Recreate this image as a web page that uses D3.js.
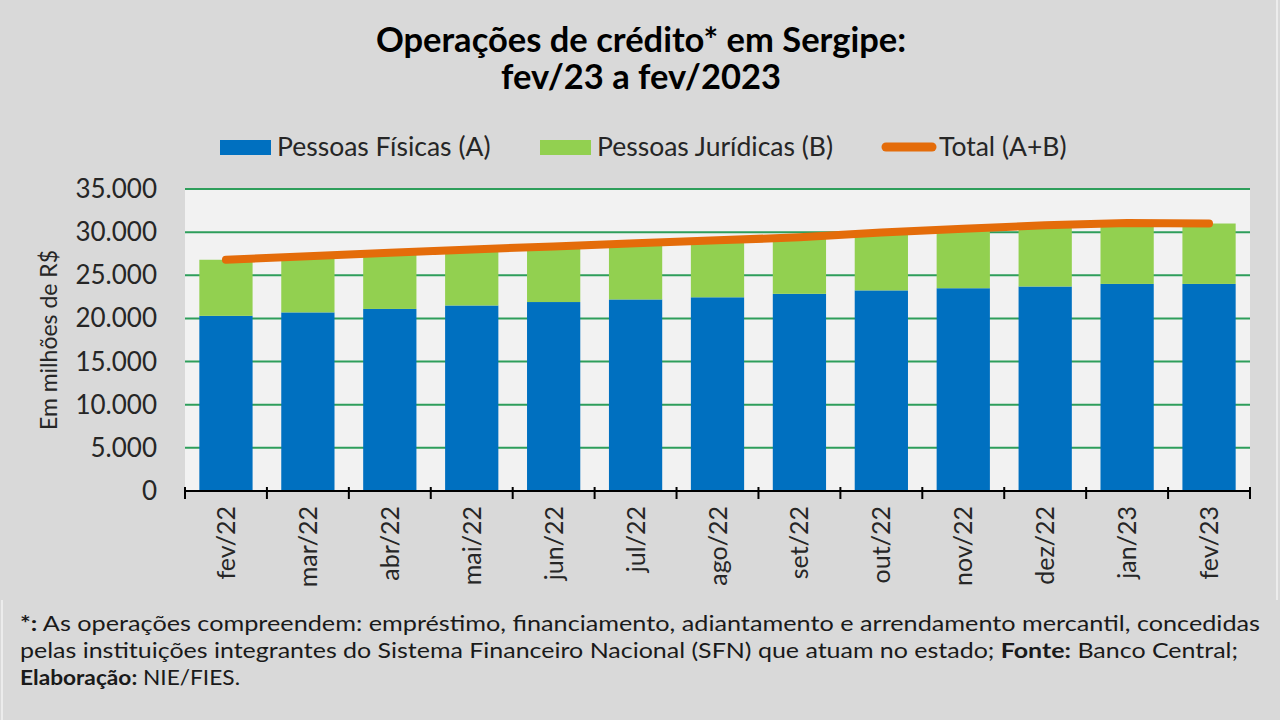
<!DOCTYPE html>
<html>
<head>
<meta charset="utf-8">
<script src="https://cdn.jsdelivr.net/npm/d3@7"></script>
<style>
  body { margin: 0; background: #d9d9d9; }
  svg { display: block; }
</style>
</head>
<body>
<script>
// data (em milhões de R$)
const months = ['fev/22', 'mar/22', 'abr/22', 'mai/22', 'jun/22', 'jul/22', 'ago/22',
  'set/22', 'out/22', 'nov/22', 'dez/22', 'jan/23', 'fev/23'];
const pessoasFisicas = [20300, 20700, 21100, 21500, 21900, 22200, 22450,
  22850, 23250, 23500, 23700, 24000, 24000];
const pessoasJuridicas = [6500, 6500, 6500, 6500, 6450, 6500, 6600,
  6550, 6700, 6900, 7100, 7050, 7000];
const yTicks = [0, 5000, 10000, 15000, 20000, 25000, 30000, 35000];

const total = pessoasFisicas.map((v, i) => v + pessoasJuridicas[i]);

const W = 1280, H = 720;
const plotLeft = 185, plotRight = 1250, plotTop = 189, plotBottom = 491;

const svg = d3.select('body').append('svg')
  .attr('width', W)
  .attr('height', H)
  .style('background', '#d9d9d9');

const fmt = d3.formatLocale({ decimal: ',', thousands: '.', grouping: [3], currency: ['R$', ''] }).format(',');

const x = d3.scaleBand()
  .domain(months)
  .range([plotLeft, plotRight])
  .paddingInner(0.35)
  .paddingOuter(0.175);

const y = d3.scaleLinear()
  .domain([0, 35000])
  .range([plotBottom, plotTop]);

// thin borders of chart box and note box
svg.append('line')
  .attr('x1', 1277).attr('y1', 0).attr('x2', 1277).attr('y2', 600)
  .style('stroke', '#ececec').style('stroke-width', '2px');
svg.append('line')
  .attr('x1', 2).attr('y1', 600).attr('x2', 2).attr('y2', 720)
  .style('stroke', '#ececec').style('stroke-width', '2px');

// title
svg.append('text')
  .attr('x', 641).attr('y', 52)
  .attr('text-anchor', 'middle')
  .style('font-family', 'Lato, sans-serif')
  .style('font-weight', 'bold')
  .style('font-size', '34.5px')
  .text('Operações de crédito* em Sergipe:');
svg.append('text')
  .attr('x', 641).attr('y', 89)
  .attr('text-anchor', 'middle')
  .style('font-family', 'Lato, sans-serif')
  .style('font-weight', 'bold')
  .style('font-size', '34.5px')
  .text('fev/23 a fev/2023');

// legend
const legend = svg.append('g')
  .style('font-family', 'Lato, sans-serif')
  .style('font-size', '26.5px')
  .style('fill', '#262626');
legend.append('rect').attr('x', 220).attr('y', 140).attr('width', 51).attr('height', 15).attr('fill', '#0070c0');
legend.append('text').attr('x', 277).attr('y', 156).text('Pessoas Físicas (A)');
legend.append('rect').attr('x', 540).attr('y', 140).attr('width', 51).attr('height', 15).attr('fill', '#92d050');
legend.append('text').attr('x', 597).attr('y', 156).text('Pessoas Jurídicas (B)');
legend.append('line')
  .attr('x1', 886).attr('y1', 147).attr('x2', 932).attr('y2', 147)
  .style('stroke', '#e46c0a').style('stroke-width', '9px').style('stroke-linecap', 'round');
legend.append('text').attr('x', 939).attr('y', 156).text('Total (A+B)');

// plot area
svg.append('rect')
  .attr('x', plotLeft).attr('y', plotTop)
  .attr('width', plotRight - plotLeft).attr('height', plotBottom - plotTop)
  .attr('fill', '#f2f2f2');

// gridlines
svg.append('g')
  .selectAll('line')
  .data(yTicks.filter(d => d > 0))
  .join('line')
  .attr('x1', plotLeft).attr('x2', plotRight)
  .attr('y1', d => y(d)).attr('y2', d => y(d))
  .style('stroke', '#2e9e5b')
  .style('stroke-width', '2px');

// y axis labels
svg.append('g')
  .selectAll('text')
  .data(yTicks)
  .join('text')
  .attr('x', 157)
  .attr('y', d => y(d) + 9)
  .attr('text-anchor', 'end')
  .style('font-family', 'Lato, sans-serif')
  .style('font-size', '26px')
  .style('fill', '#262626')
  .text(d => fmt(d));

svg.append('text')
  .attr('transform', 'translate(57,340) rotate(-90)')
  .attr('text-anchor', 'middle')
  .style('font-family', 'Lato, sans-serif')
  .style('font-size', '23px')
  .style('fill', '#262626')
  .text('Em milhões de R$');

// stacked bars
const bars = svg.append('g');
bars.selectAll('rect.pf')
  .data(months)
  .join('rect')
  .attr('class', 'pf')
  .attr('x', d => x(d))
  .attr('width', x.bandwidth())
  .attr('y', (d, i) => y(pessoasFisicas[i]))
  .attr('height', (d, i) => y(0) - y(pessoasFisicas[i]))
  .attr('fill', '#0070c0');
bars.selectAll('rect.pj')
  .data(months)
  .join('rect')
  .attr('class', 'pj')
  .attr('x', d => x(d))
  .attr('width', x.bandwidth())
  .attr('y', (d, i) => y(pessoasFisicas[i] + pessoasJuridicas[i]))
  .attr('height', (d, i) => y(pessoasFisicas[i]) - y(pessoasFisicas[i] + pessoasJuridicas[i]))
  .attr('fill', '#92d050');

// x axis
svg.append('line')
  .attr('x1', plotLeft).attr('x2', plotRight)
  .attr('y1', plotBottom).attr('y2', plotBottom)
  .style('stroke', '#000').style('stroke-width', '2px');
svg.append('g')
  .selectAll('line')
  .data(d3.range(months.length + 1))
  .join('line')
  .attr('x1', i => plotLeft + i * x.step())
  .attr('x2', i => plotLeft + i * x.step())
  .attr('y1', plotBottom - 4).attr('y2', plotBottom + 8)
  .style('stroke', '#000').style('stroke-width', '2px');

svg.append('g')
  .selectAll('text')
  .data(months)
  .join('text')
  .attr('transform', d => `translate(${x(d) + x.bandwidth() / 2 + 9},506) rotate(-90)`)
  .attr('text-anchor', 'end')
  .style('font-family', 'Lato, sans-serif')
  .style('font-size', '25px')
  .style('fill', '#262626')
  .text(d => d);

// total line
const line = d3.line()
  .x((d, i) => x(months[i]) + x.bandwidth() / 2)
  .y(d => y(d));
svg.append('path')
  .datum(total)
  .attr('d', line)
  .attr('fill', 'none')
  .style('stroke', '#e46c0a')
  .style('stroke-width', '8px')
  .style('stroke-linecap', 'round')
  .style('stroke-linejoin', 'round');

// footnote, one text per line stretched to the reference widths
const note = svg.append('g')
  .style('font-family', 'Lato, sans-serif')
  .style('font-size', '21px')
  .style('fill', '#1a1a1a');
const n1 = note.append('text').attr('x', 20).attr('y', 631)
  .attr('textLength', 1240).attr('lengthAdjust', 'spacingAndGlyphs');
n1.append('tspan').style('font-weight', 'bold').text('*:');
n1.append('tspan').text(' As operações compreendem: empréstimo, financiamento, adiantamento e arrendamento mercantil, concedidas');
const n2 = note.append('text').attr('x', 20).attr('y', 658)
  .attr('textLength', 1218).attr('lengthAdjust', 'spacingAndGlyphs');
n2.append('tspan').text('pelas instituições integrantes do Sistema Financeiro Nacional (SFN) que atuam no estado; ');
n2.append('tspan').style('font-weight', 'bold').text('Fonte:');
n2.append('tspan').text(' Banco Central;');
const n3 = note.append('text').attr('x', 20).attr('y', 685)
  .attr('textLength', 220).attr('lengthAdjust', 'spacingAndGlyphs');
n3.append('tspan').style('font-weight', 'bold').text('Elaboração:');
n3.append('tspan').text(' NIE/FIES.');
</script>
</body>
</html>
